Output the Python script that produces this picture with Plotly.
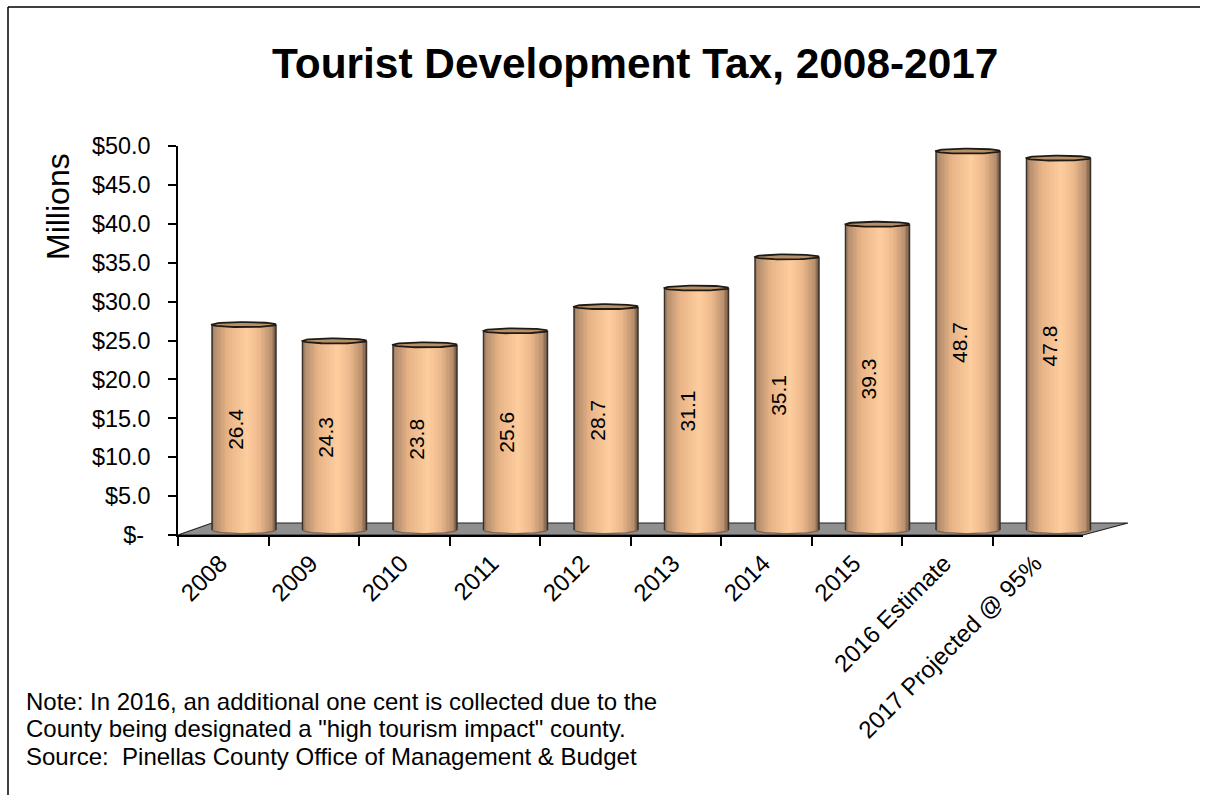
import numpy as np
import plotly.graph_objects as go

# ---- data ----
categories = ["2008", "2009", "2010", "2011", "2012", "2013", "2014", "2015",
              "2016 Estimate", "2017 Projected @ 95%"]
values = [26.4, 24.3, 23.8, 25.6, 28.7, 31.1, 35.1, 39.3, 48.7, 47.8]
y_ticks = [0, 5, 10, 15, 20, 25, 30, 35, 40, 45, 50]
y_labels = ["$-\u00a0", "$5.0", "$10.0", "$15.0", "$20.0", "$25.0", "$30.0",
            "$35.0", "$40.0", "$45.0", "$50.0"]
title_text = "Tourist Development Tax, 2008-2017"
note_lines = ["Note: In 2016, an additional one cent is collected due to the",
              'County being designated a "high tourism impact" county.',
              "Source:  Pinellas County Office of Management & Budget"]

# ---- geometry (pixels of a 1210x795 page) ----
W, H = 1210, 795
X0, X1, Y0, Y1 = 178, 1083, 535, 146      # front axis frame
BAR_X0, BAR_STEP, BAR_Y0 = 244, 90.5, 530 # depth-shifted plane of the cylinders
PX_PER_UNIT = (Y0 - Y1) / 50
BAR_W = 64 / BAR_STEP
RY = 3.6 / PX_PER_UNIT
N_STRIPS = 48
FONT = "Liberation Sans"

def px(x):
    return x / W
def py(y):
    return 1 - y / H

# cylinder shading
stops_t = [0.0, 0.05, 0.25, 0.55, 0.75, 0.93, 1.0]
stops_c = [(130, 106, 88), (180, 142, 110), (232, 180, 136), (254, 206, 158),
           (236, 184, 140), (186, 144, 110), (110, 88, 72)]
def shade(t):
    c = [np.interp(t, stops_t, [s[k] for s in stops_c]) for k in range(3)]
    return "rgb(%d,%d,%d)" % tuple(c)

fig = go.Figure()

# invisible trace that carries the category axis
fig.add_trace(go.Scatter(x=categories, y=values, mode="markers",
                         marker=dict(opacity=0), hoverinfo="skip", showlegend=False))

xpos = np.arange(len(values), dtype=float)
vals = np.array(values, dtype=float)

# body of every cylinder: thin vertical strips with curved bottom
sw = BAR_W / N_STRIPS
for i in range(N_STRIPS):
    t = (i + 0.5) / N_STRIPS
    bottom = -RY * np.sqrt(max(0.0, 1 - (2 * t - 1) ** 2))
    fig.add_trace(go.Bar(x=xpos, y=vals - bottom, base=[bottom] * len(vals),
                         offset=-BAR_W / 2 + i * sw,
                         width=sw * (1.25 if i < N_STRIPS - 1 else 1.0),
                         marker=dict(color=shade(t), line=dict(width=0)),
                         xaxis="x2", yaxis="y2", hoverinfo="skip", showlegend=False))

# value labels (slightly left of the cylinder axis, as in the source)
fig.add_trace(go.Bar(x=xpos, y=vals, base=[-0.25] * len(vals), width=BAR_W,
                     offset=-BAR_W / 2 - 9 / BAR_STEP,
                     text=["%.1f" % v for v in values],
                     textposition="inside", insidetextanchor="middle", textangle=-90,
                     insidetextfont=dict(family=FONT, size=21, color="black"),
                     constraintext="none", cliponaxis=False,
                     marker=dict(color="rgba(0,0,0,0)", line=dict(width=0)),
                     xaxis="x2", yaxis="y2", hoverinfo="skip", showlegend=False))

# top caps and outlines
theta = np.linspace(0, 2 * np.pi, 61)
cap_x, cap_y, side_x, side_y, bot_x, bot_y = [], [], [], [], [], []
for x, v in zip(xpos, vals):
    cap_x += list(x + BAR_W / 2 * np.cos(theta)) + [None]
    cap_y += list(v + RY * 0.7 * np.sin(theta)) + [None]
    side_x += [x - BAR_W / 2, x - BAR_W / 2, None, x + BAR_W / 2, x + BAR_W / 2, None]
    side_y += [0, v, None, 0, v, None]
    half = np.linspace(np.pi, 2 * np.pi, 31)
    bot_x += list(x + BAR_W / 2 * np.cos(half)) + [None]
    bot_y += list(RY * np.sin(half)) + [None]

fig.add_trace(go.Scatter(x=bot_x, y=bot_y, mode="lines", line=dict(color="#7a6250", width=1.2),
                         xaxis="x2", yaxis="y2", hoverinfo="skip", showlegend=False))
fig.add_trace(go.Scatter(x=side_x, y=side_y, mode="lines", line=dict(color="#3a3028", width=1.5),
                         xaxis="x2", yaxis="y2", hoverinfo="skip", showlegend=False))
fig.add_trace(go.Scatter(x=cap_x, y=cap_y, mode="lines", fill="toself", fillcolor="#b89068",
                         line=dict(color="#201a14", width=1.8),
                         xaxis="x2", yaxis="y2", hoverinfo="skip", showlegend=False))

# floor
floor = (f"M {px(X0)} {py(Y0)} L {px(212)} {py(523)} L {px(1128)} {py(523)} "
         f"L {px(X1)} {py(Y0)} Z")
shapes = [
    dict(type="path", xref="paper", yref="paper", path=floor, layer="below",
         fillcolor="#8f8f8f", line=dict(color="#222222", width=1.2)),
    dict(type="line", xref="paper", yref="paper", x0=px(8), x1=px(1200), y0=py(7), y1=py(7),
         line=dict(color="black", width=1.5)),
    dict(type="line", xref="paper", yref="paper", x0=px(8), x1=px(8), y0=py(7), y1=0,
         line=dict(color="black", width=1.5)),
]

annotations = [
    dict(text=title_text, xref="paper", yref="paper", x=px(635), y=py(64), showarrow=False,
         font=dict(family=FONT, size=42.4, color="black", weight="bold"), xanchor="center", yanchor="middle"),
    dict(text="Millions", xref="paper", yref="paper", x=px(58), y=py(207), showarrow=False,
         textangle=-90, font=dict(family=FONT, size=32, color="black"),
         xanchor="center", yanchor="middle"),
]
for line, yy in zip(note_lines, [701, 728, 756]):
    annotations.append(dict(text=line, xref="paper", yref="paper", x=px(24), y=py(yy),
                            showarrow=False, xanchor="left", yanchor="middle",
                            font=dict(family=FONT, size=24, color="black")))

fig.update_layout(
    width=W, height=H, margin=dict(l=0, r=0, t=0, b=0, pad=0),
    paper_bgcolor="white", plot_bgcolor="rgba(0,0,0,0)", barmode="overlay", showlegend=False,
    shapes=shapes, annotations=annotations,
    xaxis=dict(domain=[px(X0), px(X1)], type="category", categoryorder="array",
               categoryarray=categories, range=[-0.5, 9.5], tickson="boundaries",
               ticks="outside", ticklen=9, tickwidth=1.5, tickcolor="black",
               showline=True, linecolor="black", linewidth=1.5, showgrid=False, zeroline=False,
               tickangle=-45, tickfont=dict(family=FONT, size=24, color="black"),
               ticklabelstandoff=3, ticklabelshift=-3,
               anchor="y", automargin=False),
    yaxis=dict(domain=[py(Y0), py(Y1)], range=[0, 50], tickmode="array",
               tickvals=y_ticks, ticktext=y_labels, ticks="outside", ticklen=8, tickwidth=1.5,
               tickcolor="black", showline=True, linecolor="black", linewidth=1.5,
               showgrid=False, zeroline=False, ticklabelstandoff=13,
               tickfont=dict(family=FONT, size=23.4, color="black"), anchor="x", automargin=False),
    xaxis2=dict(domain=[0, 1], range=[(0 - BAR_X0) / BAR_STEP, (W - BAR_X0) / BAR_STEP],
                visible=False, anchor="y2", automargin=False),
    yaxis2=dict(domain=[0, 1], range=[(BAR_Y0 - H) / PX_PER_UNIT, BAR_Y0 / PX_PER_UNIT],
                visible=False, anchor="x2", automargin=False),
)

fig.write_html("out.html", config={"displayModeBar": False},
               post_script="document.body.style.margin='0';document.documentElement.style.overflow='hidden';")
